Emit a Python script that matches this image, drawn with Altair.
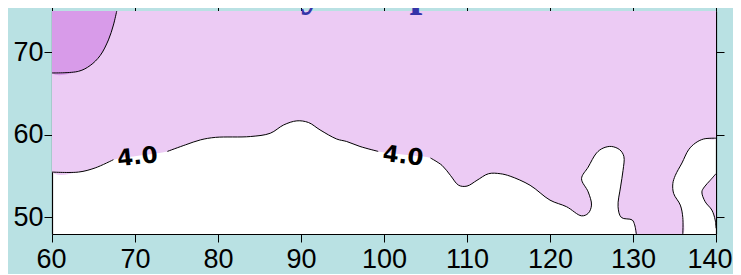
import altair as alt
import pandas as pd

# ---- axes / text ----
x_ticks = [60, 70, 80, 90, 100, 110, 120, 130, 140]
y_ticks = [50, 60, 70]
x_domain = [60, 140]
y_domain = [48, 75]
title_text = ["January temperature"]
label_text = ["4.0", "4.0"]
label_x = [70.3, 102.3]
label_y = [57.3, 57.4]
label_angle = [354, 7]

# ---- contour 4.0 (main branch, split where the labels sit) ----
main1_x = [60.0, 63.2, 65.2, 67.4]
main1_y = [55.5, 55.5, 56.0, 57.0]
main2_x = [73.9, 76.1, 77.9, 79.7, 83.9, 86.3, 87.9, 89.5, 90.9, 92.3, 94.3, 95.5, 97.1, 99.3]
main2_y = [58.0, 58.8, 59.4, 59.7, 59.8, 60.2, 61.2, 61.7, 61.5, 60.6, 59.5, 59.2, 58.6, 58.0]
main3_x = [105.6, 107.0, 108.0, 109.0, 110.0, 111.2, 112.6, 114.0, 115.2, 117.6,
           120.0, 122.0, 123.8, 124.6, 125.0, 124.6, 123.8, 124.6, 125.6, 126.4,
           127.4, 128.4, 128.9, 128.8, 128.5, 128.2, 128.6, 129.9, 130.2, 130.4]
main3_y = [57.2, 56.3, 55.1, 53.9, 53.8, 54.5, 55.3, 55.3, 55.0, 53.9,
           52.1, 51.3, 50.2, 50.5, 51.5, 53.1, 54.7, 56.1, 57.8, 58.4,
           58.6, 58.2, 57.4, 55.7, 53.7, 51.3, 50.0, 49.7, 49.1, 48.0]
# boundary under the two labels
gap_x = [70.6, 102.5]
gap_y = [57.5, 57.6]

# second 4.0 branch (bottom -> right edge)
d_x = [136.0, 136.0, 135.7, 134.9, 134.8, 135.1, 135.9, 136.7, 137.5, 138.5, 140.0]
d_y = [48.0, 50.0, 51.5, 52.9, 54.1, 55.1, 56.6, 58.2, 59.0, 59.5, 59.6]

# small wedge on the right edge
e_x = [140.0, 139.3, 138.6, 138.3, 138.7, 139.5, 139.9, 140.0]
e_y = [55.3, 54.5, 53.7, 53.1, 51.9, 50.9, 49.7, 48.7]

# upper-left (next level) contour
f_x = [60.0, 63.2, 64.6, 65.8, 66.8, 67.4, 67.8]
f_y = [67.5, 67.7, 68.4, 69.6, 71.5, 73.3, 75.0]

# corners of the plot frame used to close the filled regions
left_x, right_x, top_y = 60.0, 140.0, 75.0

BG = "#b9e1e3"
LAV = "#eccbf4"
PUR = "#d89be9"


def frame(xs, ys, seg="s"):
    return pd.DataFrame({"seg": seg, "i": list(range(len(xs))), "x": xs, "y": ys})


lav_df = frame([left_x] + main1_x + [gap_x[0]] + main2_x + [gap_x[1]] + main3_x + d_x + [right_x],
               [top_y] + main1_y + [gap_y[0]] + main2_y + [gap_y[1]] + main3_y + d_y + [top_y])
pur_df = frame([left_x] + f_x, [top_y] + f_y)
wedge_df = frame(e_x, e_y)

lines_df = pd.concat([
    frame(main1_x, main1_y, "a"),
    frame(main2_x, main2_y, "b"),
    frame(main3_x, main3_y, "c"),
    frame(d_x, d_y, "d"),
    frame(e_x, e_y, "e"),
    frame(f_x, f_y, "f"),
], ignore_index=True)

labels_df = pd.DataFrame({"t": label_text, "x": label_x, "y": label_y, "a": label_angle})
title_df = pd.DataFrame({"t": title_text})

xs = alt.Scale(domain=x_domain, nice=False, zero=False)
ys = alt.Scale(domain=y_domain, nice=False, zero=False)

common = dict(grid=False, title=None, tickColor="black", domainColor="black",
              tickSize=8, tickWidth=1, domainWidth=1.2)
lab = dict(labelFont="Liberation Sans", labelFontSize=27, labelColor="black")

ax_bottom = alt.Axis(orient="bottom", values=x_ticks, labelPadding=4, labelFlush=True,
                     labelFlushOffset=16, labelOverlap=False, **lab, **common)
ax_left = alt.Axis(orient="left", values=y_ticks, labelPadding=1, labelFlush=False, **lab, **common)
ax_top = alt.Axis(orient="top", values=x_ticks, labels=False, **common)
ax_right = alt.Axis(orient="right", values=y_ticks, labels=False, **common)


def poly(df, color, xa=None, ya=None):
    return alt.Chart(df).mark_line(fill=color, strokeWidth=0, interpolate="catmull-rom",
                                   clip=True).encode(
        x=alt.X("x:Q", scale=xs, axis=xa),
        y=alt.Y("y:Q", scale=ys, axis=ya),
        order="i:Q",
    )


lav = poly(lav_df, LAV, ax_bottom, ax_left)
pur = poly(pur_df, PUR, None, None)
wedge = poly(wedge_df, LAV, None, None)

lines = alt.Chart(lines_df).mark_line(color="black", strokeWidth=1, interpolate="catmull-rom",
                                      clip=True).encode(
    x=alt.X("x:Q", scale=xs, axis=ax_top),
    y=alt.Y("y:Q", scale=ys, axis=ax_right),
    detail="seg:N",
    order="i:Q",
)

labels = alt.Chart(labels_df).mark_text(font="DejaVu Sans", fontWeight="bold", fontSize=23,
                                        color="black", align="center", baseline="middle").encode(
    x=alt.X("x:Q", scale=xs, axis=None),
    y=alt.Y("y:Q", scale=ys, axis=None),
    text="t:N",
    angle=alt.Angle("a:Q", scale=None),
)

title = alt.Chart(title_df).mark_text(font="Liberation Serif", fontWeight="bold", fontSize=46,
                                      color="#3434a8", align="center",
                                      baseline="alphabetic").encode(
    x=alt.value(318), y=alt.value(-6), text="t:N")

chart = alt.layer(lav, pur, wedge, lines, labels, title).resolve_axis(
    x="independent", y="independent"
).properties(
    width=664, height=223,
    autosize=alt.AutoSizeParams(type="none"),
    padding={"left": 44, "top": 3, "right": 17, "bottom": 40},
    background=BG,
).configure_view(stroke=None, fill="white")

chart.save("out.html", embed_options={"renderer": "svg", "actions": False})
